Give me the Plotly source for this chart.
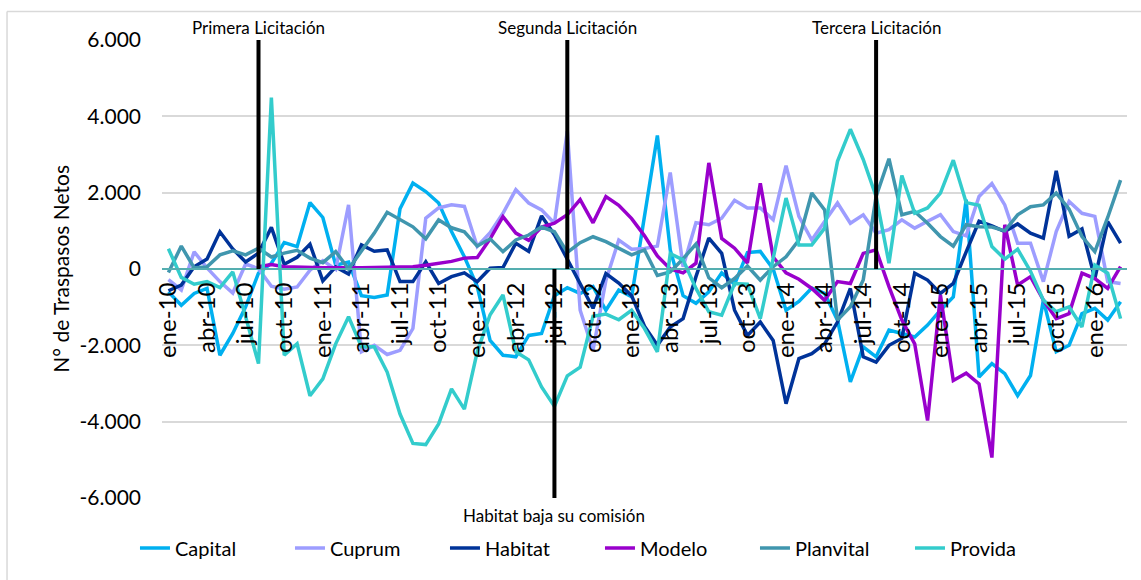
import plotly.graph_objects as go

months = [
    "ene-10", "feb-10", "mar-10", "abr-10", "may-10", "jun-10", "jul-10", "ago-10", "sep-10", "oct-10", "nov-10", "dic-10",
    "ene-11", "feb-11", "mar-11", "abr-11", "may-11", "jun-11", "jul-11", "ago-11", "sep-11", "oct-11", "nov-11", "dic-11",
    "ene-12", "feb-12", "mar-12", "abr-12", "may-12", "jun-12", "jul-12", "ago-12", "sep-12", "oct-12", "nov-12", "dic-12",
    "ene-13", "feb-13", "mar-13", "abr-13", "may-13", "jun-13", "jul-13", "ago-13", "sep-13", "oct-13", "nov-13", "dic-13",
    "ene-14", "feb-14", "mar-14", "abr-14", "may-14", "jun-14", "jul-14", "ago-14", "sep-14", "oct-14", "nov-14", "dic-14",
    "ene-15", "feb-15", "mar-15", "abr-15", "may-15", "jun-15", "jul-15", "ago-15", "sep-15", "oct-15", "nov-15", "dic-15",
    "ene-16", "feb-16", "mar-16",
]

tick_labels = [
    "ene-10", "abr-10", "jul-10", "oct-10", "ene-11", "abr-11", "jul-11", "oct-11",
    "ene-12", "abr-12", "jul-12", "oct-12", "ene-13", "abr-13", "jul-13", "oct-13",
    "ene-14", "abr-14", "jul-14", "oct-14", "ene-15", "abr-15", "jul-15", "oct-15", "ene-16",
]

y_tickvals = [-6000, -4000, -2000, 0, 2000, 4000, 6000]
y_ticktext = ["-6.000", "-4.000", "-2.000", "0", "2.000", "4.000", "6.000"]

capital = [
    -600, -950, -640, -510, -2260, -1690, -990, -110, 150, 690, 585, 1740,
    1350, 100, 180, -700, -745, -680, 1580, 2250, 2030, 1730, 980, 320,
    -460, -1870, -2260, -2300, -1740, -1690, -700, -490, -640, -460, -1080, -550,
    -730, 1400, 3500, 500, -700, -900, -600, -100, -400, 430, 460, 0,
    -1080, -850, -500, -640, -1340, -2960, -2040, -2300, -1600, -1690, -1780, -1470,
    -1080, -730, 1820, -2830, -2480, -2740, -3320, -2790, -815, -2170, -2000, -1170,
    -1030, -1340, -860,
]

cuprum = [
    -280, -550, 450, 30, -330, -630, 130, 10, -450, -530, -470, -30,
    220, -10, 1680, -2170, -2000, -2240, -2130, -1560, 1330, 1600, 1680, 1640,
    590, 950, 1460, 2080, 1730, 1550, 1200, 3610, -1080, -2130, -300, 760,
    520, 540, 600, 2530, 60, 1210, 1160, 1330, 1800, 1600, 1600, 1290,
    2710, 1380, 760, 1250, 1730, 1200, 1420, 940, 1030, 1290, 1070, 1250,
    1420, 980, 870, 1900, 2240, 1680, 675, 675, -330, 980, 1770, 1460,
    1380, -330, -380,
]

habitat = [
    -570, -420, 60, 260, 975, 525, 185, 415, 1090, 125, 305, 650,
    -310, 55, -130, 630, 465, 500, -330, -330, 190, -380, -200, -100,
    -330, 20, 40, 675, 460, 1390, 900, 260, -380, -1030, -120, -370,
    -700, -1500, -2000, -1520, -1300, -200, 810, 410, -1080, -1740, -1390, -1870,
    -3530, -2350, -2220, -1960, -1390, -510, -2300, -2440, -2000, -1820, -110, -290,
    -640, -380, 450, 1250, 1130, 980, 1180, 940, 810, 2570, 860, 1050,
    -250, 1240, 680,
]

modelo = [
    None, None, None, None, None, None, None, 60, 120, 60, 45, 40,
    30, 30, 25, 30, 40, 50, 55, 60, 100, 150, 200, 285,
    300, 790, 1370, 940, 750, 1100, 1200, 1420, 1820, 1210, 1900, 1670,
    1320, 870, 340, 0, -100, 150, 2780, 800, 545, 155, 2245, 315,
    -100, -270, -510, -820, -330, -380, 410, 500, -460, -1340, -1960, -3970,
    -680, -2920, -2730, -3010, -4940, 1160, -420, -200, -815, -1300, -1170, -110,
    -250, -510, 60,
]

planvital = [
    -90, 600, 30, 55, 370, 475, 370, 545, 315, 415, 490, 285,
    165, 455, 0, 480, 940, 1485, 1290, 1105, 790, 1285, 1080, 975,
    600, 790, 455, 760, 890, 1100, 975, 435, 690, 845, 715, 545,
    370, 500, -170, -75, 270, 650, -230, -490, -250, 80, -290, 60,
    320, 760, 1990, 1550, -1340, -990, -290, 1900, 2890, 1420, 1510, 1200,
    850, 600, 1160, 1110, 1100, 1000, 1420, 1630, 1680, 1990, 1570, 850,
    455, 1350, 2330,
]

provida = [
    530, -220, -400, -330, -490, -75, -1250, -2480, 4490, -2260, -1960, -3320,
    -2880, -1960, -1250, -2040, -2040, -2700, -3800, -4570, -4600, -4060, -3140, -3670,
    -2170, -1200, -680, -2170, -2380, -3090, -3600, -2800, -2570, -1240, -1180, -1330,
    -1080, -1560, -2170, 400, 240, -510, -1120, -1210, -380, -400, -1300, 320,
    1860, 630, 630, 1070, 2820, 3660, 2870, 1900, 150, 2450, 1460, 1600,
    1990, 2850, 1740, 1670, 590, 260, 520, -60, -815, -1120, -990, -1520,
    100, -110, -1300,
]

series_names = ["Capital", "Cuprum", "Habitat", "Modelo", "Planvital", "Provida"]
series_values = [capital, cuprum, habitat, modelo, planvital, provida]
series_colors = ["#00B0F0", "#9D9DFF", "#003399", "#9900CC", "#4096AE", "#33CCCC"]

event_labels = ["Primera Licitación", "Segunda Licitación", "Tercera Licitación"]
event_months = ["ago-10", "ago-12", "ago-14"]
habitat_label = "Habitat baja su comisión"
habitat_month = "jul-12"

FONT = "Lato"

fig = go.Figure()
for name, vals, col in zip(series_names, series_values, series_colors):
    fig.add_trace(go.Scatter(
        x=months, y=vals, name=name, mode="lines",
        line=dict(color=col, width=3.5), connectgaps=False,
    ))

shapes = []
annotations = []
for lab, m in zip(event_labels, event_months):
    shapes.append(dict(type="line", xref="x", yref="y", x0=m, x1=m, y0=0, y1=6000,
                       line=dict(color="black", width=4), layer="above"))
    annotations.append(dict(text=lab, xref="x", yref="paper", x=m, y=1.028,
                            showarrow=False, xanchor="center", yanchor="middle",
                            font=dict(size=17, color="black", family=FONT)))
shapes.append(dict(type="line", xref="x", yref="y", x0=habitat_month, x1=habitat_month,
                   y0=0, y1=-6000, line=dict(color="black", width=4), layer="above"))
annotations.append(dict(text=habitat_label, xref="x", yref="paper", x=habitat_month, y=-0.039,
                        showarrow=False, xanchor="center", yanchor="middle",
                        font=dict(size=17, color="black", family=FONT)))
annotations.append(dict(text="N° de Traspasos Netos", xref="paper", yref="paper",
                        x=-0.106, y=0.5, textangle=-90, showarrow=False,
                        xanchor="center", yanchor="middle",
                        font=dict(size=21, color="black", family=FONT)))

# chart-area border (top and left edges visible)
shapes.append(dict(type="line", xref="paper", yref="paper", x0=-0.1606, x1=1.02, y0=1.062, y1=1.062,
                   line=dict(color="#D9D9D9", width=1.5)))
shapes.append(dict(type="line", xref="paper", yref="paper", x0=-0.1606, x1=-0.1606, y0=1.062, y1=-0.2,
                   line=dict(color="#D9D9D9", width=1.5)))

fig.update_layout(
    width=1141, height=580,
    margin=dict(l=162, r=14, t=40, b=82, autoexpand=False),
    paper_bgcolor="white", plot_bgcolor="white",
    font=dict(family=FONT, color="black"),
    shapes=shapes, annotations=annotations,
    legend=dict(orientation="h", x=-0.028, xanchor="left", y=-0.109, yanchor="middle",
                font=dict(size=20, family=FONT, color="black"),
                entrywidth=110, entrywidthmode="pixels", bgcolor="rgba(0,0,0,0)"),
    xaxis=dict(
        type="category", categoryorder="array", categoryarray=months,
        range=[-0.5, len(months) - 0.5],
        tickmode="array", tickvals=tick_labels, ticktext=tick_labels,
        tickangle=-90, tickfont=dict(size=24, family=FONT, color="black"),
        showgrid=False, zeroline=False,
        showline=True, linecolor="#55AEB0", linewidth=2,
        anchor="free", position=0.5, ticks="", ticklabelstandoff=3,
        automargin=False,
    ),
    yaxis=dict(
        range=[-6000, 6000], tickmode="array", tickvals=y_tickvals, ticktext=y_ticktext,
        tickfont=dict(size=21, family=FONT, color="black"),
        showgrid=True, gridcolor="#D9D9D9", gridwidth=2,
        zeroline=False, showline=False, ticks="", ticklabelstandoff=20,
        automargin=False,
    ),
)

fig.write_html("out.html", config={"displayModeBar": False},
               post_script="document.body.style.margin='0';")
